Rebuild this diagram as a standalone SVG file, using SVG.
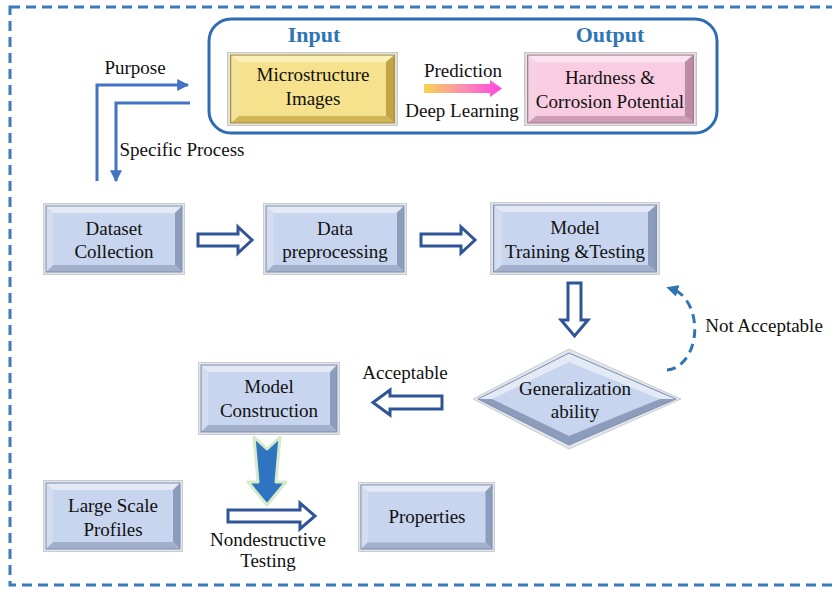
<svg xmlns="http://www.w3.org/2000/svg" width="832" height="591" viewBox="0 0 832 591" font-family="'Liberation Serif', 'DejaVu Serif', 'Times New Roman', serif">
<style>
  text { font-family: 'Liberation Serif', 'DejaVu Serif', 'Times New Roman', serif; fill: #111; font-size: 19px; text-anchor: middle; }
  .hdr { font-weight: bold; fill: #2e75b6; font-size: 22px; }
  .lbl { font-size: 19px; }
  .hollow { fill: #ffffff; stroke: #2f5597; stroke-width: 3; stroke-linejoin: miter; }
  .flow { fill: none; stroke: #4472c4; stroke-width: 3; }
</style>
<defs>
  <marker id="ah" viewBox="0 0 10 10" refX="9" refY="5" markerWidth="4" markerHeight="4" orient="auto" markerUnits="strokeWidth">
    <path d="M0,0 L10,5 L0,10 z" fill="#4472c4"/>
  </marker>
  <marker id="ahd" viewBox="0 0 10 10" refX="5" refY="5" markerWidth="4" markerHeight="4" orient="auto" markerUnits="strokeWidth">
    <path d="M0,0 L10,5 L0,10 z" fill="#2e75b6"/>
  </marker>
  <linearGradient id="pred" x1="0" y1="0" x2="1" y2="0">
    <stop offset="0" stop-color="#f7d44c"/>
    <stop offset="0.5" stop-color="#fb8fb0"/>
    <stop offset="1" stop-color="#ff45e0"/>
  </linearGradient>
  <symbol id="bblue" viewBox="0 0 140 72" preserveAspectRatio="none">
    <rect x="0.5" y="0.5" width="139" height="71" fill="#e2e5ea" stroke="#c9ccd2"/>
    <polygon points="3,3 137,3 130,10 10,10" fill="#e3eaf6"/>
    <polygon points="3,3 10,10 10,62 3,69" fill="#d4ddef"/>
    <polygon points="137,3 137,69 130,62 130,10" fill="#8c9cbc"/>
    <polygon points="3,69 137,69 130,62 10,62" fill="#a2b0cc"/>
    <rect x="10" y="10" width="120" height="52" fill="#c7d5ee"/>
    <rect x="3" y="3" width="134" height="66" fill="none" stroke="#7f8fae" stroke-width="1"/>
  </symbol>
  <symbol id="byellow" viewBox="0 0 140 72" preserveAspectRatio="none">
    <rect x="0.5" y="0.5" width="139" height="71" fill="#e4e4e0" stroke="#c9c9c4"/>
    <polygon points="3,3 137,3 130,10 10,10" fill="#fbf1b6"/>
    <polygon points="3,3 10,10 10,62 3,69" fill="#f5e399"/>
    <polygon points="137,3 137,69 130,62 130,10" fill="#c2a446"/>
    <polygon points="3,69 137,69 130,62 10,62" fill="#d2b555"/>
    <rect x="10" y="10" width="120" height="52" fill="#f6e28c"/>
    <rect x="3" y="3" width="134" height="66" fill="none" stroke="#a88d3c" stroke-width="1"/>
  </symbol>
  <symbol id="bpink" viewBox="0 0 140 72" preserveAspectRatio="none">
    <rect x="0.5" y="0.5" width="139" height="71" fill="#e4e2e4" stroke="#c9c6c9"/>
    <polygon points="3,3 137,3 130,10 10,10" fill="#fbe3ef"/>
    <polygon points="3,3 10,10 10,62 3,69" fill="#f5d3e4"/>
    <polygon points="137,3 137,69 130,62 130,10" fill="#bf8aa4"/>
    <polygon points="3,69 137,69 130,62 10,62" fill="#cf9cb5"/>
    <rect x="10" y="10" width="120" height="52" fill="#f9cce1"/>
    <rect x="3" y="3" width="134" height="66" fill="none" stroke="#a67791" stroke-width="1"/>
  </symbol>
</defs>

<rect width="832" height="591" fill="#ffffff"/>

<rect id="frame" x="10" y="7" width="850" height="578" fill="none" stroke="#3a7abf" stroke-width="3" stroke-dasharray="10 6"/>

<g id="io-panel">
  <rect x="209" y="19" width="508" height="114" rx="22" ry="22" fill="#ffffff" stroke="#2e6db4" stroke-width="3"/>
  <text class="hdr" x="314" y="42">Input</text>
  <text class="hdr" x="610" y="42">Output</text>
</g>

<g id="microstructure">
  <use href="#byellow" x="227" y="52" width="171" height="74"/>
  <text x="313" y="81">Microstructure</text>
  <text x="313" y="105">Images</text>
</g>

<g id="hardness">
  <use href="#bpink" x="524" y="52" width="173" height="74"/>
  <text x="610" y="84">Hardness &amp;</text>
  <text x="610" y="108">Corrosion Potential</text>
</g>

<g id="dataset">
  <use href="#bblue" x="43" y="203" width="142" height="72"/>
  <text x="114" y="235">Dataset</text>
  <text x="114" y="258">Collection</text>
</g>

<g id="preprocessing">
  <use href="#bblue" x="263" y="203" width="144" height="72"/>
  <text x="335" y="235">Data</text>
  <text x="335" y="258">preprocessing</text>
</g>

<g id="training">
  <use href="#bblue" x="490" y="202" width="170" height="73"/>
  <text x="575" y="234">Model</text>
  <text x="575" y="258">Training &amp;Testing</text>
</g>

<g id="generalization">
  <polygon points="473,399 569,349 681,399 569,449" fill="#e2e5ea" stroke="#c9ccd2"/>
  <polygon points="478,399 569,353 676,399 569,445" fill="#8c9cbc"/>
  <polygon points="478,399 569,353 676,399" fill="#e3eaf6"/>
  <polygon points="492,399 569,362 660,399 569,436" fill="#c7d5ee"/>
  <polygon points="478,399 569,353 676,399 569,445" fill="none" stroke="#7f8fae" stroke-width="1"/>
  <text x="575" y="395">Generalization</text>
  <text x="575" y="418">ability</text>
</g>

<g id="construction">
  <use href="#bblue" x="198" y="362" width="142" height="73"/>
  <text x="269" y="393">Model</text>
  <text x="269" y="417">Construction</text>
</g>

<g id="large-scale">
  <use href="#bblue" x="43" y="480" width="140" height="72"/>
  <text x="113" y="512">Large Scale</text>
  <text x="113" y="536">Profiles</text>
</g>

<g id="properties">
  <use href="#bblue" x="358" y="482" width="137" height="70"/>
  <text x="427" y="523">Properties</text>
</g>

<g id="connectors">
  <polyline class="flow" points="97,181 97,85 188,85" marker-end="url(#ah)"/>
  <polyline class="flow" points="190,103 116,103 116,181" marker-end="url(#ah)"/>
  <text class="lbl" x="135" y="74">Purpose</text>
  <text class="lbl" x="182" y="156">Specific Process</text>

  <polygon points="424,84 490,84 490,80 502,88.5 490,97 490,93 424,93" fill="url(#pred)"/>
  <text class="lbl" x="463" y="77">Prediction</text>
  <text class="lbl" x="462" y="117">Deep Learning</text>

  <polygon class="hollow" points="198,234 238,234 238,227 252,240 238,253 238,246 198,246"/>
  <polygon class="hollow" points="421,234 461,234 461,227 475,240 461,253 461,246 421,246"/>
  <polygon class="hollow" points="568,283 581,283 581,320 588,320 574.5,336 561,320 568,320"/>
  <polygon class="hollow" points="442,396 390,396 390,390 373,402.5 390,415 390,409 442,409"/>
  <polygon class="hollow" points="228,510 300,510 300,503 315,516 300,529 300,522 228,522"/>

  <path d="M667,370 A29,41 0 0 0 672,289" fill="none" stroke="#2e75b6" stroke-width="3" stroke-dasharray="9 6" marker-end="url(#ahd)"/>
  <text class="lbl" x="764" y="332">Not Acceptable</text>
  <text class="lbl" x="405" y="379">Acceptable</text>

  <polygon points="254,437 267,449 280,437 276,482 286,482 267,505 248,482 258,482" fill="#2e74c0" stroke="#d6ebc9" stroke-width="3" stroke-linejoin="round"/>
  <text class="lbl" x="268" y="546">Nondestructive</text>
  <text class="lbl" x="268" y="567">Testing</text>
</g>
</svg>
